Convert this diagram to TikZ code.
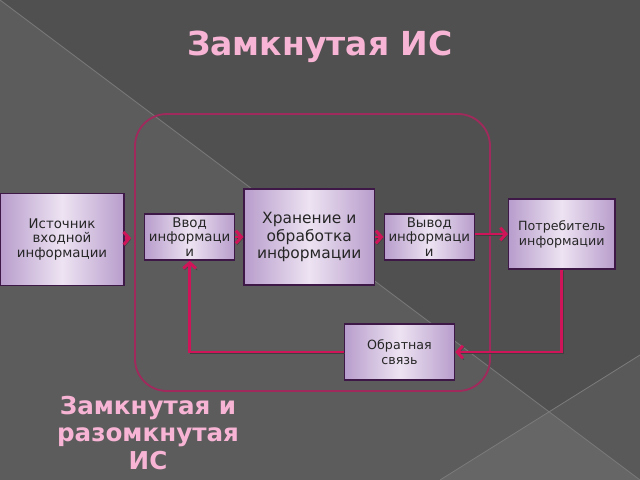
\documentclass[tikz,border=0pt]{standalone}
\usepackage{fontspec}
\setmainfont{DejaVu Sans}
\usepackage{tikz}
\usetikzlibrary{arrows.meta}

\definecolor{bgtop}{HTML}{505050}
\definecolor{bgleft}{HTML}{5C5C5C}
\definecolor{bgright}{HTML}{595959}
\definecolor{bgbottom}{HTML}{666666}
\definecolor{bgline}{HTML}{7A7A7A}
\definecolor{titlepink}{HTML}{F8B4D4}
\definecolor{framered}{HTML}{A02A5C}
\definecolor{linkred}{HTML}{D0145A}
\definecolor{boxline}{HTML}{3E1846}
\definecolor{boxedge}{HTML}{B89DCC}
\definecolor{boxmid}{HTML}{EDE3F2}

\begin{document}
\begin{tikzpicture}
        [
        x = 0.025cm, y = -0.025cm,
        >= {Straight Barb[length=4pt, width=9pt]},
        box/.style = {
            draw = boxline, line width = 1.1pt,
            align = center, text = black!85,
            left color = boxedge, right color = boxedge, middle color = boxmid,
            inner sep = 1pt,
        },
        link/.style = {
            ->, draw = linkred, line width = 2.1pt,
            preaction = {draw = black!75, transform canvas = {shift = {(0.8pt,-1.1pt)}}},
        },
        ]

        % Fon
        \useasboundingbox (0,0) rectangle (640,480);
        \fill[bgleft] (0,0) rectangle (640,480);
        \fill[bgtop] (0,0) -- (640,0) -- (640,355) -- (549,412) -- cycle;
        \fill[bgright] (640,355) -- (549,412) -- (640,480) -- cycle;
        \fill[bgbottom] (549,412) -- (440,480) -- (640,480) -- cycle;
        \draw[bgline, line width = 0.6pt] (0,0) -- (640,480) (640,355) -- (440,480);

        % Zagolovki
        \node[text = titlepink, font = \fontsize{23.5}{26}\selectfont\bfseries, anchor = base] (title) at (320,56) {Замкнутая ИС};
        \node[text = titlepink, font = \fontsize{17.5}{19.5}\selectfont\bfseries, align = center] (subtitle) at (148,433) {Замкнутая и \\ разомкнутая \\ ИС};

        % Ramka
        \draw[framered, line width = 1.3pt, rounded corners = 0.8cm] (135,114) rectangle (490,391);

        % Bloki
        \node[box, minimum width = 3.1cm, minimum height = 2.3cm, font = \fontsize{9.5}{10.6}\selectfont] (src) at (62,239.5) {Источник \\ входной \\ информации};
        \node[box, minimum width = 2.25cm, minimum height = 1.15cm, font = \fontsize{9.5}{10.4}\selectfont, right of = src, node distance = 3.19cm, yshift = 2.5*0.025cm] (vvod) {Ввод \\ информаци \\ и};
        \node[box, minimum width = 3.25cm, minimum height = 2.4cm, font = \fontsize{11}{12.5}\selectfont, right of = vvod, node distance = 2.99cm] (hran) {Хранение и \\ обработка \\ информации};
        \node[box, minimum width = 2.25cm, minimum height = 1.15cm, font = \fontsize{9.5}{10.4}\selectfont, right of = hran, node distance = 3.0cm] (vyvod) {Вывод \\ информаци \\ и};
        \node[box, minimum width = 2.65cm, minimum height = 1.75cm, font = \fontsize{9}{10.6}\selectfont, right of = vyvod, node distance = 3.31cm, yshift = 3*0.025cm] (potr) {Потребитель \\ информации};
        \node[box, minimum width = 2.75cm, minimum height = 1.4cm, font = \fontsize{9}{10.6}\selectfont] (obr) at (399.5,352) {Обратная \\ связь};

        % Svyazi
        \draw[link, shorten >= 9pt] (src) -- (vvod);
        \draw[link] (vvod) -- (hran);
        \draw[link] (hran) -- (vyvod);
        \draw[link] (vyvod.east |- potr.west) -- (potr.west);
        \draw[link] (potr.south) |- (obr.east);
        \draw[link] (obr.west) -| (vvod.south);
    \end{tikzpicture}
\end{document}
